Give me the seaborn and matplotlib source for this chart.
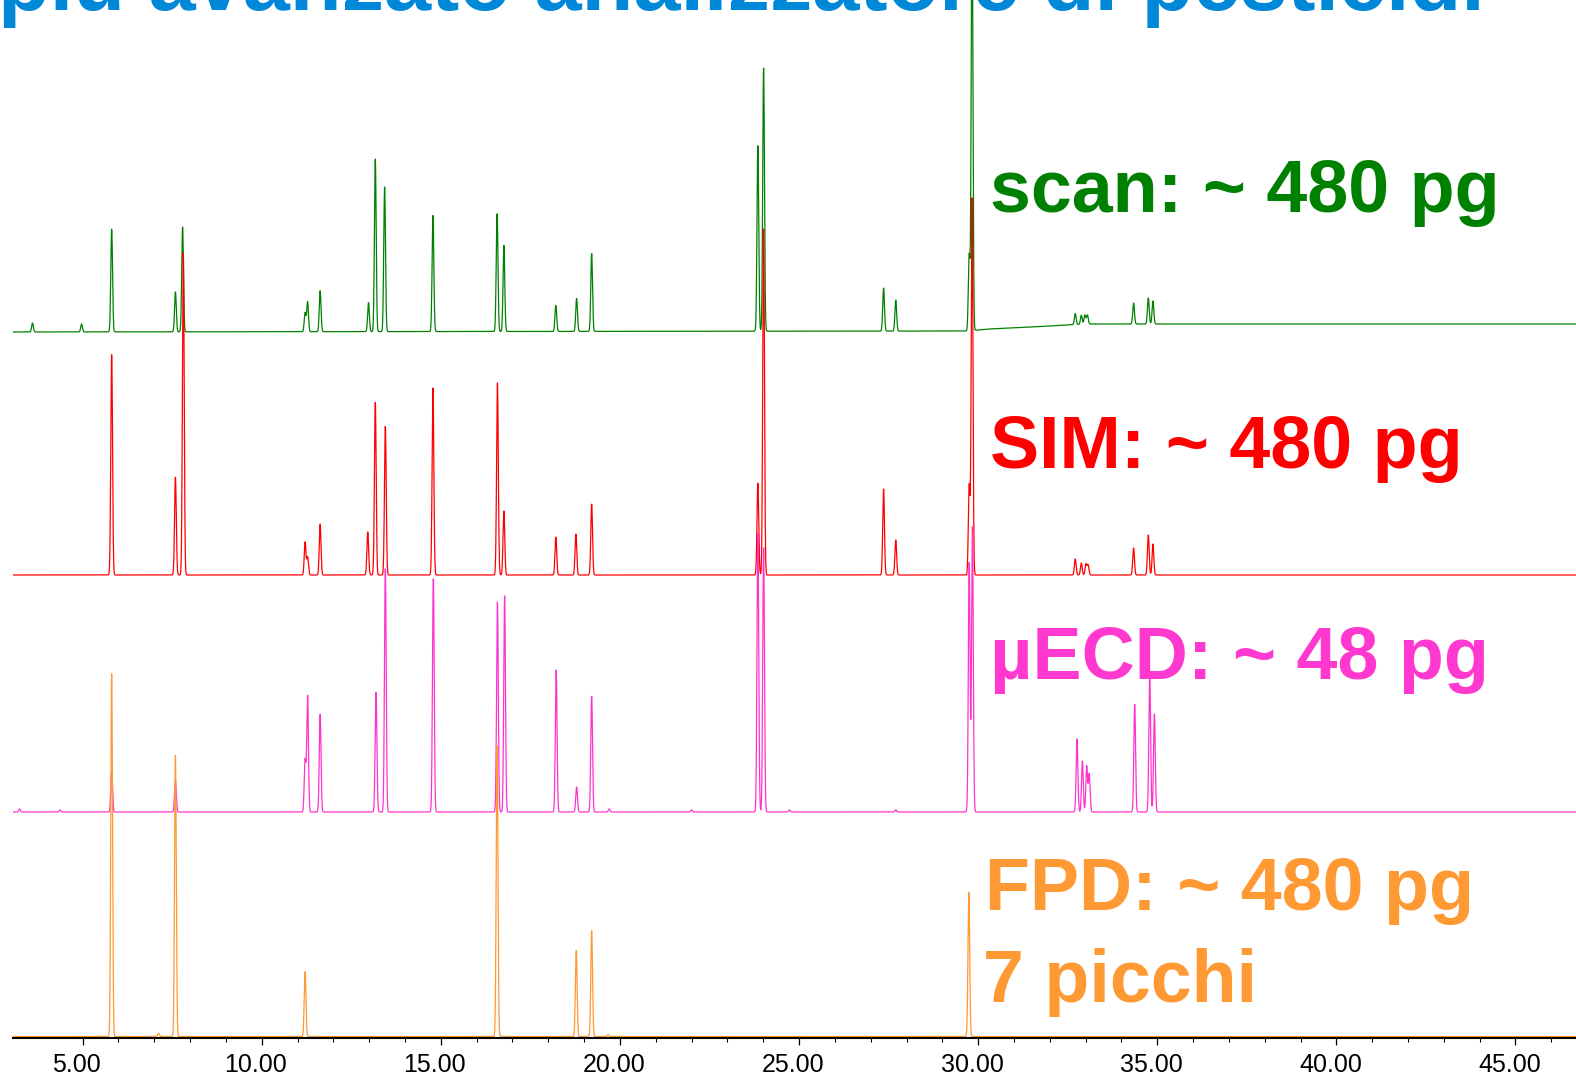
import numpy as np
import pandas as pd
import matplotlib
matplotlib.use('Agg')
import matplotlib.pyplot as plt
from matplotlib.ticker import FormatStrFormatter
from matplotlib.transforms import ScaledTranslation
import seaborn as sns

# tempi di ritenzione (min) e altezze dei picchi sopra la linea di base
scan_rt = [3.60, 4.97, 5.81, 7.59, 7.79, 11.21, 11.28, 11.63, 12.98, 13.17, 13.43,
           14.78, 16.57, 16.76, 18.21, 18.79, 19.21, 23.85, 24.01, 27.36, 27.70,
           29.75, 29.83, 32.71, 32.88, 32.98, 33.05, 34.34, 34.75, 34.88]
scan_h = [9, 8, 103, 40, 105, 19, 30, 41, 29, 173, 145,
          116, 118, 86, 26, 33, 78, 186, 264, 43, 31,
          76, 420, 11, 9, 9, 9, 21, 26, 23]
# linea di base dello scan (deriva dopo 30 min)
scan_base_t = [3.0, 29.7, 30.3, 31.5, 33.0, 46.8]
scan_base = [706, 707, 709, 711, 714, 714]

sim_rt = [5.81, 7.59, 7.81, 11.21, 11.28, 11.63, 12.96, 13.17, 13.45, 14.78,
          16.58, 16.76, 18.21, 18.77, 19.21, 23.85, 24.01, 27.36, 27.70,
          29.75, 29.83, 32.71, 32.88, 33.01, 33.07, 34.34, 34.75, 34.88]
sim_h = [221, 98, 323, 33, 18, 51, 43, 173, 149, 187,
         192, 64, 38, 41, 71, 92, 347, 86, 35,
         90, 378, 16, 12, 11, 10, 27, 40, 31]
sim_base = 463

ecd_rt = [3.24, 4.37, 5.81, 7.59, 11.21, 11.28, 11.63, 13.19, 13.45, 14.79,
          16.58, 16.78, 18.22, 18.79, 19.21, 19.70, 22.0, 23.85, 24.01, 24.73,
          27.70, 29.75, 29.84, 32.76, 32.91, 33.03, 33.10, 34.37, 34.79, 34.92]
ecd_h = [3, 2, 41, 31, 52, 116, 98, 120, 244, 234,
         210, 216, 142, 25, 116, 3, 2, 280, 265, 2,
         2, 250, 285, 73, 51, 46, 38, 108, 136, 98]
ecd_base = 226

fpd_rt = [5.81, 7.12, 7.59, 11.21, 16.57, 18.78, 19.21, 19.67, 29.74]
fpd_h = [364, 3, 282, 65, 292, 86, 106, 2, 144]
fpd_base = 1.5

detectors = ['scan', 'SIM', 'µECD', 'FPD']
colors = ['#008000', '#ff0000', '#ff33cc', '#ff9933']
labels = ['scan: ~ 480 pg', 'SIM: ~ 480 pg', 'µECD: ~ 48 pg', 'FPD: ~ 480 pg', '7 picchi']
title = 'più avanzato analizzatore di pesticidi'

t = np.arange(3.0, 46.8, 0.004)


def trace(rt, h, base, w=0.024):
    rt = np.asarray(rt)[:, None]
    h = np.asarray(h)[:, None]
    return base + (h * np.exp(-0.5 * ((t - rt) / w) ** 2)).sum(axis=0)


df = pd.concat([
    pd.DataFrame({'time': t, 'signal': trace(scan_rt, scan_h, np.interp(t, scan_base_t, scan_base)), 'detector': 'scan'}),
    pd.DataFrame({'time': t, 'signal': trace(sim_rt, sim_h, sim_base), 'detector': 'SIM'}),
    pd.DataFrame({'time': t, 'signal': trace(ecd_rt, ecd_h, ecd_base), 'detector': 'µECD'}),
    pd.DataFrame({'time': t, 'signal': trace(fpd_rt, fpd_h, fpd_base), 'detector': 'FPD'}),
])

sns.set_theme(style='ticks')
plt.rcParams['font.family'] = ['Liberation Sans', 'DejaVu Sans']

W, H = 1576, 1077
fig = plt.figure(figsize=(W / 100, H / 100), dpi=100)
ax = fig.add_axes([12.8 / W, 39 / H, 1 - 12.8 / W, 1 - 39 / H])

sns.lineplot(data=df, x='time', y='signal', hue='detector', hue_order=detectors,
             palette=colors, estimator=None, sort=False, lw=0.9, legend=False, ax=ax)

ax.set_xlim(3.05, 46.69)
ax.set_ylim(0, 1038)
ax.set_xlabel('')
ax.set_ylabel('')
ax.set_yticks([])
for s in ['left', 'top', 'right']:
    ax.spines[s].set_visible(False)
ax.spines['bottom'].set_linewidth(1.5)
ax.spines['bottom'].set_color('black')
ax.set_xticks(np.arange(5, 46, 5))
ax.xaxis.set_major_formatter(FormatStrFormatter('%.2f'))
ax.set_xticks(np.arange(5, 47, 1), minor=True)
ax.tick_params(axis='x', which='major', length=5, width=0.9, color='black',
               labelsize=18, pad=6, labelcolor='black')
ax.tick_params(axis='x', which='minor', length=3, width=0.8, color='black')
# le etichette nell'originale stanno un po' a sinistra delle tacche
shift = ScaledTranslation(-6 / 100, 0, fig.dpi_scale_trans)
for lab in ax.get_xticklabels():
    lab.set_transform(lab.get_transform() + shift)

# titolo tagliato in alto
fig.text(-0.001, 1 - 10 / H, title, color='#0088d8', fontsize=61,
         fontweight='bold', ha='left', va='baseline')

pos = [(990, 212), (990, 468), (990, 679), (985, 910), (983, 1002)]
cols = [colors[0], colors[1], '#ff38d0', colors[3], colors[3]]
for lab, (x, y), c in zip(labels, pos, cols):
    fig.text(x / W, 1 - y / H, lab, color=c, fontsize=53, fontweight='bold',
             ha='left', va='baseline')

fig.savefig('out.png', dpi=100)
